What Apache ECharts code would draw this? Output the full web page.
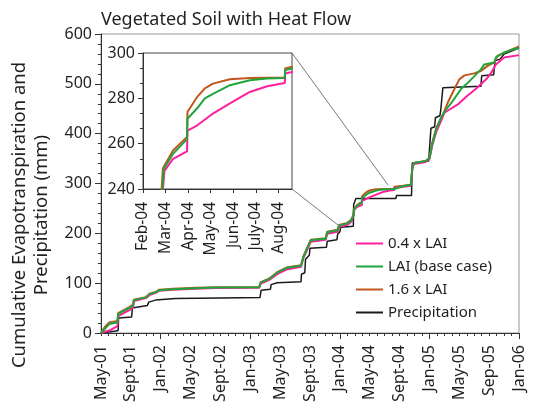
<!DOCTYPE html>
<html><head><meta charset="utf-8">
<script src="https://cdn.jsdelivr.net/npm/echarts@6/dist/echarts.min.js"></script>
<style>html,body{margin:0;padding:0;background:#fff}#c{width:536px;height:412px}</style>
</head><body><div id="c"></div>
<script>
// x values are months counted from Jan 2001 (May-01 = 4, Jan-06 = 60)
const xLabels = ['May-01','Sept-01','Jan-02','May-02','Sept-02','Jan-03','May-03','Sept-03','Jan-04','May-04','Sept-04','Jan-05','May-05','Sep-05','Jan-06'];
const insetLabels = ['Feb-04','Mar-04','Apr-04','May-04','Jun-04','July-04','Aug-04'];
const seriesNames = ['0.4 x LAI','LAI (base case)','1.6 x LAI','Precipitation'];

const lai04 = [[4,0],[5.1,5],[6.2,14],[6.3,34],[7.8,46],[8.3,51],[8.4,64],[10.0,70],[10.5,76],[11.4,81],[11.8,85],[13.6,87],[16.7,89],[19.4,90.5],[25.2,91],[25.4,99],[26.5,106],[27.6,118],[29,128],[30.8,133],[31.1,150],[31.5,163],[32.1,183],[34.1,187],[34.3,199],[35.7,203],[35.9,213],[37.0,217],[37.5,223],[37.85,236],[37.95,248],[38.33,253.3],[38.95,256.6],[38.97,265.8],[39.39,268],[40.1,273.3],[40.85,277.8],[41.73,282.8],[42.5,285.3],[43.28,286.8],[43.3,291],[44.5,293.5],[45.5,295.5],[45.7,328],[45.9,339],[47.5,343],[48.0,349],[48.4,378],[48.9,403],[49.55,425],[50.0,442],[51.8,458.6],[53.0,475],[54.0,487],[54.9,499],[55.6,509],[56.3,522.6],[56.9,539],[58.0,553],[60,557.6]];

const laiBase = [[4,0],[4.5,8],[5.1,18],[6.2,21],[6.3,38],[7.0,44],[7.8,50],[8.3,55],[8.4,66],[9.2,69],[10.0,71],[10.5,78],[11.4,82],[11.8,86],[13.6,88],[16.7,90],[19.4,91.5],[25.2,92],[25.4,101],[26.5,108],[27.6,121],[29,131],[30.8,135],[31.1,152],[31.5,166],[32.1,186],[34.1,189],[34.3,202],[35.7,206],[35.9,216],[37.0,220],[37.5,226],[37.83,236],[37.92,249],[38.33,255.5],[38.95,262],[38.97,271],[39.39,275.5],[39.74,280],[40.1,282],[40.85,285.8],[41.73,288],[42.5,288.7],[43.28,289],[43.3,292.5],[44.5,295],[45.5,297],[45.7,330],[45.9,341],[47.5,345],[48.0,351],[48.4,381],[48.9,408],[49.55,432],[50.2,448],[51.1,465],[52.2,489],[53.0,500],[54.0,515],[54.9,529],[55.35,539],[56.7,543],[56.9,553],[58.0,563],[59.4,570],[60,572]];

const lai16 = [[4,0],[4.5,12],[5.1,21],[6.2,24],[6.3,40],[7.8,52],[8.3,57],[8.4,67],[10.0,72],[10.5,79],[11.4,83],[11.8,87],[13.6,89],[16.7,91],[19.4,92],[25.2,92.5],[25.4,102],[26.5,109],[27.6,122],[29,132],[30.8,136],[31.1,153],[31.5,167],[32.1,187],[34.1,190],[34.3,203],[35.7,207],[35.9,217],[37.0,221],[37.5,227],[37.8,236],[37.88,249],[38.33,257],[38.95,263],[38.97,274],[39.39,280.5],[39.74,284.4],[40.1,286.5],[40.85,288.4],[41.73,289],[43.28,289.2],[43.3,293.3],[44.5,295.5],[45.5,297.5],[45.7,330],[45.9,341],[47.5,345],[48.0,351],[48.4,383],[48.9,411],[49.8,438],[50.45,462],[51.1,482],[52.0,509],[52.7,517],[54.0,521],[54.9,526],[55.8,536],[56.7,543],[57.1,556],[58.9,568],[60,575]];

const precip = [[4,0],[5,2],[6,4],[6.3,5],[6.35,30],[8.1,32],[8.2,50],[10.2,55],[10.4,62],[11.3,66],[11.5,68],[14,69],[20,70],[25.3,71],[25.45,86],[26.7,88],[26.8,97],[27.6,101],[30.8,103],[30.85,118],[31.3,121],[31.4,148],[31.9,156],[32.0,170],[34.2,172],[34.3,184],[35.6,187],[35.7,198],[36.0,203],[36.1,212],[37.8,214],[37.85,258],[38.1,262],[38.15,270],[43.5,270],[43.6,276],[45.6,276],[45.7,341],[47.9,345],[48.2,411],[48.7,414],[48.8,432],[49.4,436],[49.5,445],[49.8,492],[54.9,495],[55.0,516],[56.6,518],[56.8,546],[57.5,550],[58,560],[59,566],[60,572]];

const FONT = 'Noto Sans';
const TXT = '#231f20';
const C_PINK = '#ff1f9e', C_GREEN = '#1fa53b', C_BROWN = '#c2571e', C_BLACK = '#1a1a1a';

function line(name, data, color, width, xi, yi, z) {
  return { type: 'line', name, data, xAxisIndex: xi, yAxisIndex: yi, symbol: 'none',
    lineStyle: { color, width }, itemStyle: { color }, z, animation: false, clip: true };
}

const chart = echarts.init(document.getElementById('c'), null, { renderer: 'canvas' });
chart.setOption({
  animation: false,
  textStyle: { fontFamily: FONT, color: TXT },
  title: { text: 'Vegetated Soil with Heat Flow', left: 96, top: 6,
    textStyle: { fontFamily: FONT, fontSize: 18, fontWeight: 'normal', color: TXT } },
  legend: { orient: 'vertical', left: 350, top: 231, itemWidth: 27, itemHeight: 14, itemGap: 8,
    itemStyle: { opacity: 0 },
    data: seriesNames, textStyle: { fontFamily: FONT, fontSize: 15, color: TXT } },
  grid: [
    { left: 101, right: 17, top: 34, bottom: 79, show: true, borderColor: '#999', borderWidth: 1 },
    { left: 143, right: 244, top: 53, bottom: 223, show: true, borderColor: '#444', borderWidth: 1, backgroundColor: '#fff' }
  ],
  xAxis: [
    { type: 'value', gridIndex: 0, min: 4, max: 60, interval: 4, position: 'bottom',
      axisLine: { lineStyle: { color: '#333', width: 1 } },
      axisTick: { show: true, customValues: [12, 24, 36, 48, 60], length: 6, lineStyle: { color: '#333' } },
      axisLabel: { rotate: 90, margin: 12, fontSize: 16, color: TXT, fontFamily: FONT,
        formatter: v => xLabels[Math.round((v - 4) / 4)] || '' },
      splitLine: { show: false } },
    { type: 'value', gridIndex: 0, min: 4, max: 60, interval: 1, position: 'bottom', offset: 0,
      axisLine: { show: false }, axisLabel: { show: false }, splitLine: { show: false },
      axisTick: { show: true, length: 3, lineStyle: { color: '#333' } } },
    { type: 'value', gridIndex: 1, min: 37, max: 43.6, interval: 1,
      axisLine: { lineStyle: { color: '#333' } },
      axisTick: { show: true, length: 4, customValues: [37, 38, 39, 40, 41, 42, 43], lineStyle: { color: '#333' } },
      axisLabel: { rotate: 90, margin: 13, fontSize: 15.5, color: TXT, fontFamily: FONT,
        customValues: [37, 38, 39, 40, 41, 42, 43],
        formatter: v => insetLabels[Math.round(v - 37)] || '' },
      splitLine: { show: false } }
  ],
  yAxis: [
    { type: 'value', gridIndex: 0, min: 0, max: 600, interval: 100,
      axisLine: { show: true, lineStyle: { color: '#333' } },
      axisTick: { show: true, length: 6, lineStyle: { color: '#333' } },
      minorTick: { show: true, splitNumber: 5, length: 3, lineStyle: { color: '#333' } },
      axisLabel: { fontSize: 16, margin: 9, color: TXT, fontFamily: FONT },
      splitLine: { show: false } },
    { type: 'value', gridIndex: 1, min: 240, max: 300, interval: 20,
      axisLine: { show: true, lineStyle: { color: '#333' } },
      axisTick: { show: true, length: 5, lineStyle: { color: '#333' } },
      minorTick: { show: true, splitNumber: 3, length: 3, lineStyle: { color: '#333' } },
      axisLabel: { fontSize: 16, margin: 8, color: TXT, fontFamily: FONT },
      splitLine: { show: false } }
  ],
  series: [
    line('Precipitation', precip, C_BLACK, 1.5, 0, 0, 2),
    line('1.6 x LAI', lai16, C_BROWN, 2, 0, 0, 3),
    line('0.4 x LAI', lai04, C_PINK, 2, 0, 0, 4),
    line('LAI (base case)', laiBase, C_GREEN, 2, 0, 0, 5),
    line('1.6 x LAI', lai16, C_BROWN, 2, 2, 1, 3),
    line('0.4 x LAI', lai04, C_PINK, 2, 2, 1, 4),
    line('LAI (base case)', laiBase, C_GREEN, 2, 2, 1, 5)
  ]
});

// connector lines between inset and the zoomed region of the main chart
const pTop = chart.convertToPixel({ gridIndex: 0 }, [42.45, 297]);
const pBot = chart.convertToPixel({ gridIndex: 0 }, [36.15, 212]);
const cTop = chart.convertToPixel({ gridIndex: 1 }, [43.6, 300]);
const cBot = chart.convertToPixel({ gridIndex: 1 }, [43.6, 240]);
chart.setOption({
  graphic: [
    { type: 'line', shape: { x1: cTop[0], y1: cTop[1], x2: pTop[0], y2: pTop[1] }, style: { stroke: '#777', lineWidth: 1 }, z: 10 },
    { type: 'line', shape: { x1: cBot[0], y1: cBot[1], x2: pBot[0], y2: pBot[1] }, style: { stroke: '#777', lineWidth: 1 }, z: 10 },
    { type: 'text', x: 31, y: 215, rotation: Math.PI / 2, z: 10,
      style: { text: 'Cumulative Evapotranspiration and\nPrecipitation (mm)', fontFamily: FONT, fontSize: 18.5,
        lineHeight: 22, fill: TXT, align: 'center', verticalAlign: 'middle' } }
  ]
});
</script>
</body></html>
